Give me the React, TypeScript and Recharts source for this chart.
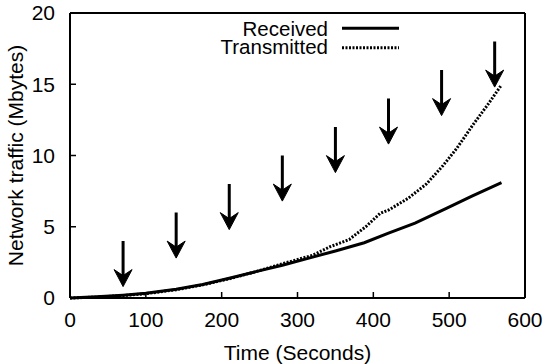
import {
  Legend,
  Line,
  LineChart,
  ReferenceLine,
  XAxis,
  YAxis,
} from "recharts";

const receivedTime = [0, 35, 70, 100, 140, 175, 210, 245, 280, 315, 350, 388, 420, 455, 497, 530, 569];
const receivedMB = [0, 0.08, 0.2, 0.33, 0.62, 0.95, 1.38, 1.85, 2.3, 2.8, 3.3, 3.88, 4.55, 5.25, 6.3, 7.15, 8.1];

const transmittedTime = [0, 35, 70, 100, 140, 175, 210, 245, 280, 300, 320, 343, 368, 390, 409, 421, 446, 470, 492, 510, 532, 550, 569];
const transmittedMB = [0, 0.06, 0.17, 0.3, 0.58, 0.92, 1.35, 1.85, 2.4, 2.7, 3.0, 3.6, 4.1, 5.0, 5.94, 6.2, 7.0, 8.0, 9.3, 10.5, 12.2, 13.5, 14.95];

// arrows: time, top of shaft, tip
const arrowTime = [70, 140, 210, 280, 350, 420, 490, 560];
const arrowTop = [4, 6, 8, 10, 12, 14, 16, 18];
const arrowTip = [0.8, 2.8, 4.8, 6.8, 8.8, 10.8, 12.8, 14.8];

const xTicks = [0, 100, 200, 300, 400, 500, 600];
const yTicks = [0, 5, 10, 15, 20];

const received = receivedTime.map((t, i) => ({ t, v: receivedMB[i] }));
const transmitted = transmittedTime.map((t, i) => ({ t, v: transmittedMB[i] }));

const FONT = "'Liberation Sans', Arial, Helvetica, sans-serif";
const tickStyle = { fill: "#000", fontSize: 21, fontFamily: FONT };
const axisLine = { stroke: "#000", strokeWidth: 2 };
const tickLine = { stroke: "#000", strokeWidth: 1.5 };
const DOTS = "2 1.5";

function Arrow(props: any) {
  const { x1, y1, x2, y2 } = props;
  return (
    <g>
      <line x1={x1} y1={y1} x2={x2} y2={y2 - 10} stroke="#000" strokeWidth={3} />
      <polygon
        points={`${x2},${y2} ${x2 - 9},${y2 - 17} ${x2},${y2 - 11} ${x2 + 9},${y2 - 17}`}
        fill="#000"
        stroke="#000"
        strokeWidth={1}
      />
    </g>
  );
}

function KeyBox({ payload }: any) {
  return (
    <svg width={210} height={44} style={{ display: "block" }}>
      {(payload ?? []).map((entry: any, i: number) => (
        <g key={entry.value}>
          <text
            x={128}
            y={21.7 + i * 18.5}
            textAnchor="end"
            fontSize={20.5}
            fontFamily={FONT}
            fill="#000"
          >
            {entry.value}
          </text>
          <line
            x1={142}
            x2={199}
            y1={14.3 + i * 19.5}
            y2={14.3 + i * 19.5}
            stroke="#000"
            strokeWidth={3}
            strokeDasharray={entry.payload?.strokeDasharray}
          />
        </g>
      ))}
    </svg>
  );
}

function yLabel({ viewBox }: any) {
  const x = viewBox.x + 23;
  const y = viewBox.y + viewBox.height / 2;
  return (
    <text
      x={x}
      y={y}
      transform={`rotate(-90 ${x} ${y})`}
      textAnchor="middle"
      fontSize={21}
      fontFamily={FONT}
      fill="#000"
    >
      Network traffic (Mbytes)
    </text>
  );
}

export default function App() {
  return (
    <div style={{ position: "absolute", left: 0, top: 0, background: "#fff" }}>
      <LineChart
        width={547}
        height={364}
        margin={{ top: 12, right: 21, bottom: 0, left: 0 }}
        style={{ fontFamily: FONT }}
      >
        <XAxis
          xAxisId="main"
          dataKey="t"
          type="number"
          domain={[0, 600]}
          ticks={xTicks}
          height={66}
          tickSize={-6}
          tickMargin={20}
          tick={tickStyle}
          axisLine={axisLine}
          tickLine={tickLine}
          allowDuplicatedCategory={false}
          label={{
            value: "Time (Seconds)",
            position: "insideBottom",
            offset: 4,
            fill: "#000",
            fontSize: 21,
            fontFamily: FONT,
          }}
        />
        <XAxis
          xAxisId="top"
          orientation="top"
          type="number"
          domain={[0, 600]}
          ticks={xTicks}
          height={1}
          tickSize={-6}
          tick={false}
          axisLine={axisLine}
          tickLine={tickLine}
        />
        <YAxis
          yAxisId="main"
          type="number"
          domain={[0, 20]}
          ticks={yTicks}
          width={70}
          tickSize={-6}
          tickMargin={21}
          tick={tickStyle}
          axisLine={axisLine}
          tickLine={tickLine}
          label={yLabel}
        />
        <YAxis
          yAxisId="right"
          orientation="right"
          type="number"
          domain={[0, 20]}
          ticks={yTicks}
          width={1}
          tickSize={-6}
          tick={false}
          axisLine={axisLine}
          tickLine={tickLine}
        />
        <Legend
          layout="vertical"
          align="center"
          verticalAlign="middle"
          content={<KeyBox />}
          wrapperStyle={{ position: "absolute", top: 14, left: 200, width: 210, height: 44 }}
        />
        {arrowTime.map((t, i) => (
          <ReferenceLine
            key={t}
            xAxisId="main"
            yAxisId="main"
            segment={[
              { x: t, y: arrowTop[i] },
              { x: t, y: arrowTip[i] },
            ]}
            shape={Arrow}
          />
        ))}
        <Line
          xAxisId="main"
          yAxisId="main"
          data={received}
          dataKey="v"
          name="Received"
          stroke="#000"
          strokeWidth={3}
          dot={false}
          activeDot={false}
          isAnimationActive={false}
        />
        <Line
          xAxisId="main"
          yAxisId="main"
          data={transmitted}
          dataKey="v"
          name="Transmitted"
          stroke="#000"
          strokeWidth={3}
          strokeDasharray={DOTS}
          dot={false}
          activeDot={false}
          isAnimationActive={false}
        />
      </LineChart>
    </div>
  );
}
